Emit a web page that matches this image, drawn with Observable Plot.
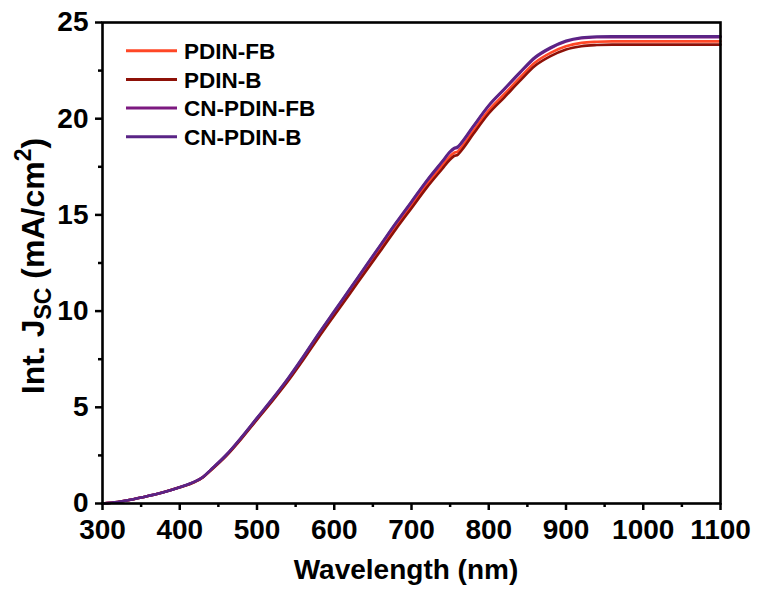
<!DOCTYPE html>
<html>
<head>
<meta charset="utf-8">
<script src="https://cdn.jsdelivr.net/npm/d3@7"></script>
<script src="https://cdn.jsdelivr.net/npm/@observablehq/plot@0.6"></script>
<style>
  html, body { margin: 0; padding: 0; background: white; }
  #chart { width: 758px; height: 592px; }
</style>
</head>
<body>
<div id="chart"></div>
<script>
// Wavelength (nm)
const wavelengths = [300,320,340,360,380,400,420,430,440,460,480,500,520,540,560,580,600,620,640,660,680,700,720,740,750,755,760,765,780,800,820,840,860,880,900,920,940,960,1000,1050,1100];
// Integrated Jsc (mA/cm2)
const pdinFB   = [0,0.08,0.22,0.4,0.6,0.84,1.14,1.37,1.73,2.49,3.41,4.4,5.38,6.42,7.55,8.74,9.88,11.01,12.15,13.28,14.42,15.5,16.59,17.57,18.05,18.22,18.3,18.53,19.36,20.43,21.27,22.12,22.92,23.42,23.76,23.94,24.0,24.02,24.02,24.02,24.02];
const pdinB    = [0,0.08,0.22,0.4,0.6,0.84,1.13,1.36,1.71,2.46,3.37,4.36,5.33,6.35,7.47,8.64,9.77,10.89,12.02,13.14,14.27,15.35,16.43,17.4,17.88,18.05,18.13,18.36,19.2,20.27,21.1,21.95,22.75,23.25,23.6,23.77,23.83,23.85,23.85,23.85,23.85];
const cnPdinFB = [0,0.08,0.22,0.4,0.6,0.85,1.15,1.38,1.75,2.52,3.44,4.44,5.43,6.48,7.62,8.82,9.97,11.12,12.27,13.42,14.56,15.66,16.76,17.76,18.26,18.43,18.51,18.74,19.58,20.66,21.51,22.36,23.16,23.66,24.01,24.18,24.23,24.24,24.24,24.24,24.24];
const cnPdinB  = [0,0.08,0.22,0.4,0.6,0.85,1.15,1.38,1.75,2.52,3.45,4.45,5.45,6.5,7.65,8.85,10.0,11.15,12.3,13.45,14.6,15.7,16.8,17.8,18.3,18.47,18.55,18.78,19.62,20.7,21.55,22.4,23.2,23.7,24.05,24.22,24.27,24.28,24.28,24.28,24.28];

const seriesNames  = ["PDIN-FB", "PDIN-B", "CN-PDIN-FB", "CN-PDIN-B"];
const seriesValues = [pdinFB, pdinB, cnPdinFB, cnPdinB];
const seriesColors = ["#FF4726", "#8E1108", "#7C1980", "#5A2486"];

const xMajorTicks = [300,400,500,600,700,800,900,1000,1100];
const xMinorTicks = [350,450,550,650,750,850,950,1050];
const yMajorTicks = [0,5,10,15,20,25];
const yMinorTicks = [2.5,7.5,12.5,17.5,22.5];

const data = seriesNames.flatMap((s, i) =>
  wavelengths.map((w, k) => ({series: s, w, j: seriesValues[i][k]}))
);

const FONT = "'Liberation Sans', Arial, Helvetica, sans-serif";

const chart = Plot.plot({
  width: 758,
  height: 592,
  marginLeft: 102,
  marginRight: 38,
  marginTop: 22,
  marginBottom: 89,
  x: {domain: [300, 1100]},
  y: {domain: [0, 25]},
  color: {domain: seriesNames, range: seriesColors},
  style: {fontFamily: FONT, fontWeight: "bold", fontSize: "28px", color: "black", background: "white", overflow: "visible"},
  marks: [
    Plot.line(data, {x: "w", y: "j", z: "series", stroke: "series", strokeWidth: 2.6, curve: "monotone-x"}),
    Plot.axisX(xMajorTicks, {tickSize: 7, tickPadding: 9, strokeWidth: 2.5, label: null, fontSize: 28, fontWeight: "bold", tickFormat: d => String(d)}),
    Plot.axisX(xMinorTicks, {tickSize: 4, text: null, strokeWidth: 2.5, label: null}),
    Plot.axisY(yMajorTicks, {tickSize: 7, tickPadding: 7, strokeWidth: 2.5, label: null, fontSize: 28, fontWeight: "bold", tickFormat: d => String(d)}),
    Plot.axisY(yMinorTicks, {tickSize: 4, text: null, strokeWidth: 2.5, label: null}),
    Plot.frame({stroke: "black", strokeWidth: 2.6})
  ]
});

document.getElementById("chart").appendChild(chart);

const svg = d3.select(chart);

// X axis title
svg.append("text")
  .attr("x", 406).attr("y", 579)
  .attr("text-anchor", "middle")
  .attr("font-family", FONT).attr("font-weight", "bold").attr("font-size", 28)
  .attr("fill", "black")
  .text("Wavelength (nm)");

// Y axis title with sub/superscript
const yt = svg.append("text")
  .attr("transform", "translate(44,266) rotate(-90)")
  .attr("text-anchor", "middle")
  .attr("font-family", FONT).attr("font-weight", "bold").attr("font-size", 32)
  .attr("fill", "black");
yt.append("tspan").text("Int. J");
yt.append("tspan").attr("font-size", 23).attr("dy", 7).text("SC");
yt.append("tspan").attr("dy", -7).text(" (mA/cm");
yt.append("tspan").attr("font-size", 23).attr("dy", -13).text("2");
yt.append("tspan").attr("dy", 13).text(")");

// Legend
const lg = svg.append("g").attr("font-family", FONT).attr("font-weight", "bold").attr("font-size", 22.5);
seriesNames.forEach((s, i) => {
  const cy = 50.7 + i * 28.7;
  lg.append("line").attr("x1", 126).attr("x2", 177).attr("y1", cy).attr("y2", cy)
    .attr("stroke", seriesColors[i]).attr("stroke-width", 3);
  lg.append("text").attr("x", 184).attr("y", cy).attr("dy", "0.36em")
    .attr("text-anchor", "start")
    .attr("fill", "black").text(s);
});
</script>
</body>
</html>
